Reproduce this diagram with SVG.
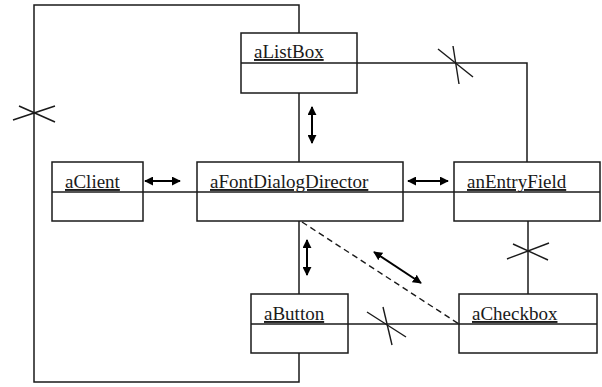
<svg xmlns="http://www.w3.org/2000/svg" width="602" height="387" viewBox="0 0 602 387">
<style>
.box{fill:#fff;stroke:#1a1a1a;stroke-width:1.5}
.div{stroke:#1a1a1a;stroke-width:1.5}
.ln{fill:none;stroke:#1a1a1a;stroke-width:1.5}
.x{stroke:#1a1a1a;stroke-width:1.4}
.arr{stroke:#000;stroke-width:2;marker-start:url(#ah);marker-end:url(#ah)}
.dash{fill:none;stroke:#1a1a1a;stroke-width:1.4;stroke-dasharray:6,4}
text{font-family:"Liberation Serif","Times New Roman",serif;font-size:19px;fill:#1a1a1a;text-decoration:underline}
</style>
<defs>
<marker id="ah" viewBox="0 0 10 10" refX="9" refY="5" markerWidth="4.5" markerHeight="4.5" orient="auto-start-reverse" markerUnits="strokeWidth">
<path d="M0,0 L10,5 L0,10 Z" fill="#000"/>
</marker>
</defs>
<g id="connectors">
<path class="ln" d="M299,33 V5 H34 V382 H299 V353"/>
<path class="ln" d="M299,93 V162"/>
<path class="ln" d="M299,221 V294"/>
<path class="ln" d="M357,63 H527 V162"/>
<path class="ln" d="M143,192 H197"/>
<path class="ln" d="M403,192 H454"/>
<path class="ln" d="M528,221 V294"/>
<path class="ln" d="M348,324 H459"/>
<path class="dash" d="M302,222 L459,324"/>
<line class="x" x1="13" y1="120" x2="55" y2="106"/>
<line class="x" x1="19" y1="106" x2="55" y2="122"/>
<line class="x" x1="438" y1="49" x2="473" y2="77"/>
<line class="x" x1="453" y1="46" x2="459" y2="84"/>
<line class="x" x1="507" y1="259" x2="549" y2="243"/>
<line class="x" x1="513" y1="244" x2="548" y2="260"/>
<line class="x" x1="367" y1="312" x2="406" y2="337"/>
<line class="x" x1="383" y1="307" x2="392" y2="345"/>
<line class="arr" x1="312" y1="107" x2="312" y2="143"/>
<line class="arr" x1="145" y1="181" x2="180" y2="181"/>
<line class="arr" x1="408" y1="181" x2="448" y2="181"/>
<line class="arr" x1="307" y1="240" x2="307" y2="275"/>
<line class="arr" x1="374" y1="252" x2="421" y2="283"/>
</g>
<g id="aListBox">
<rect class="box" x="241" y="33" width="116" height="60"/>
<line class="div" x1="241" y1="63" x2="357" y2="63"/>
<text x="254" y="58">aListBox</text>
</g>
<g id="aClient">
<rect class="box" x="52" y="162" width="91" height="59"/>
<line class="div" x1="52" y1="192" x2="143" y2="192"/>
<text x="65" y="188">aClient</text>
</g>
<g id="aFontDialogDirector">
<rect class="box" x="197" y="162" width="206" height="59"/>
<line class="div" x1="197" y1="192" x2="403" y2="192"/>
<text x="210" y="188">aFontDialogDirector</text>
</g>
<g id="anEntryField">
<rect class="box" x="454" y="162" width="146" height="59"/>
<line class="div" x1="454" y1="192" x2="600" y2="192"/>
<text x="467" y="188">anEntryField</text>
</g>
<g id="aButton">
<rect class="box" x="251" y="294" width="97" height="59"/>
<line class="div" x1="251" y1="324" x2="348" y2="324"/>
<text x="264" y="320">aButton</text>
</g>
<g id="aCheckbox">
<rect class="box" x="459" y="294" width="138" height="59"/>
<line class="div" x1="459" y1="324" x2="597" y2="324"/>
<text x="472" y="320">aCheckbox</text>
</g>
</svg>
